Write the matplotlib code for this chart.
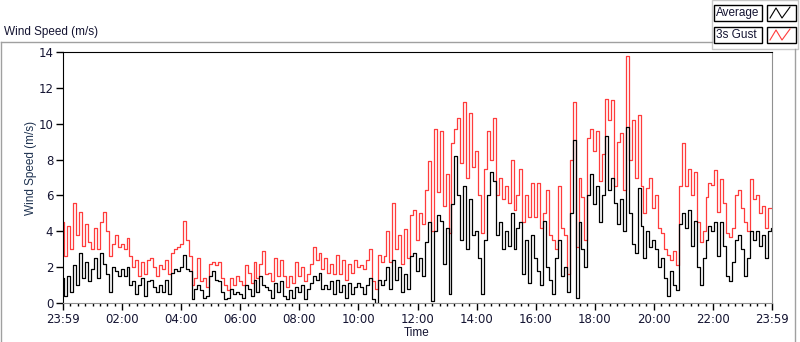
import matplotlib
matplotlib.use("Agg")
import matplotlib.pyplot as plt
import numpy as np
from matplotlib.patches import Rectangle
from matplotlib.lines import Line2D

W, H = 800, 342

# wind record, one sample every 6 minutes from 23:59 to 23:59
step_min = 6
gust = [
    4.5, 2.6, 4.3, 3.0, 5.6, 3.8, 5.1, 3.2, 4.4, 3.4,
    3.0, 4.2, 3.0, 4.5, 5.1, 4.0, 2.6, 3.3, 3.8, 3.1,
    3.3, 3.0, 3.6, 2.6, 2.0, 2.4, 1.5, 2.3, 1.6, 2.4,
    2.5, 2.0, 1.5, 2.1, 1.9, 2.4, 1.6, 2.8, 3.0, 3.1,
    3.3, 4.6, 3.5, 2.6, 1.0, 1.4, 2.5, 1.2, 1.4, 0.9,
    2.2, 2.3, 2.1, 2.3, 1.4, 1.0, 0.7, 1.4, 1.0, 1.5,
    1.2, 1.0, 2.1, 1.7, 1.1, 2.3, 1.4, 2.2, 2.9, 1.6,
    1.7, 1.2, 2.5, 1.5, 2.4, 1.5, 0.9, 1.5, 1.1, 2.3,
    1.5, 2.0, 1.2, 1.6, 2.2, 3.1, 2.4, 2.8, 1.9, 2.5,
    1.7, 2.2, 1.6, 2.7, 1.6, 2.4, 1.3, 2.2, 1.7, 2.4,
    2.0, 2.1, 1.9, 2.4, 3.0, 1.2, 0.8, 2.7, 2.3, 2.6,
    4.0, 2.3, 5.6, 3.0, 3.8, 2.2, 4.1, 2.5, 4.9, 5.2,
    3.5, 5.0, 4.4, 6.3, 7.9, 4.0, 9.7, 6.2, 9.6, 5.4,
    7.2, 3.9, 8.9, 9.7, 10.3, 7.8, 11.2, 7.0, 10.6, 7.6,
    8.5, 6.0, 3.9, 7.5, 9.6, 8.0, 10.3, 6.0, 7.0, 5.8,
    6.5, 5.6, 8.0, 5.2, 6.0, 7.5, 4.5, 6.0, 4.8, 6.7,
    4.8, 6.7, 4.2, 5.0, 6.3, 3.8, 3.5, 3.0, 6.5, 4.2,
    3.8, 1.6, 8.0, 11.2, 3.1, 7.0, 5.9, 3.5, 9.2, 9.7,
    8.5, 9.6, 6.8, 8.3, 11.4, 10.2, 11.3, 6.5, 9.0, 9.5,
    6.3, 13.8, 8.0, 10.2, 7.0, 10.5, 6.5, 5.0, 6.4, 7.0,
    5.3, 6.0, 4.2, 3.9, 3.0, 2.7, 2.4, 2.9, 2.1, 6.5,
    8.9, 6.5, 7.5, 6.0, 7.3, 4.5, 3.4, 4.0, 5.9, 6.7,
    6.6, 7.4, 5.1, 6.9, 5.6, 3.9, 3.7, 4.2, 6.0, 6.3,
    5.3, 4.5, 4.0, 6.9, 5.8, 6.0, 5.0, 5.4, 4.2, 5.3,
    5.3,
]
average = [
    1.4, 0.4, 1.5, 0.6, 2.1, 1.0, 2.8, 1.4, 2.3, 1.2,
    1.9, 2.5, 1.4, 2.8, 2.2, 1.6, 0.6, 2.0, 1.8, 1.5,
    1.9, 1.5, 2.0, 1.0, 1.2, 0.5, 1.0, 1.4, 0.4, 1.2,
    1.3, 0.9, 0.6, 1.0, 0.6, 1.3, 0.5, 1.7, 1.9, 1.8,
    2.0, 2.7, 1.9, 1.8, 0.2, 0.8, 1.0, 0.7, 0.3, 0.4,
    1.5, 1.8, 1.3, 1.2, 0.6, 0.2, 0.3, 0.8, 0.5, 0.6,
    0.5, 0.3, 1.0, 0.8, 0.4, 1.3, 0.6, 1.5, 1.0, 0.9,
    0.7, 0.3, 1.1, 0.6, 1.2, 0.4, 0.2, 0.7, 0.3, 0.9,
    0.6, 1.0, 0.2, 0.8, 1.1, 1.5, 1.3, 1.7, 0.8, 1.0,
    0.8, 1.2, 0.5, 1.3, 0.6, 1.0, 0.3, 1.1, 0.5, 0.9,
    1.1, 0.9, 0.5, 1.0, 1.4, 0.2, 0.0, 1.3, 1.0, 1.3,
    2.0, 0.8, 2.4, 1.3, 2.0, 0.6, 1.6, 0.8, 2.6, 2.8,
    1.8, 2.5, 1.5, 3.4, 4.5, 0.1, 4.0, 4.9, 4.6, 2.2,
    4.2, 0.5, 5.5, 8.2, 6.0, 3.5, 6.5, 3.0, 5.8, 3.8,
    4.0, 2.5, 0.5, 3.5, 6.0, 7.3, 6.8, 3.8, 4.5, 3.0,
    4.0, 3.2, 5.0, 3.0, 4.2, 4.5, 1.6, 3.5, 1.1, 3.8,
    2.5, 1.8, 1.0, 4.6, 2.0, 1.3, 0.5, 2.5, 3.5, 1.5,
    2.0, 0.6, 5.0, 9.1, 0.3, 4.5, 3.0, 2.0, 6.0, 7.2,
    5.5, 6.5, 4.5, 6.0, 9.3, 6.3, 7.0, 5.6, 4.4, 5.8,
    4.0, 9.8, 5.0, 3.3, 2.8, 6.4, 4.3, 2.5, 4.0, 3.1,
    3.5, 3.0, 2.0, 2.5, 1.4, 0.4, 1.8, 1.0, 0.7, 4.4,
    5.0, 4.2, 5.2, 3.2, 4.6, 2.0, 1.0, 2.5, 3.5, 4.3,
    4.0, 4.5, 2.6, 4.5, 3.2, 1.5, 1.2, 2.3, 3.5, 3.8,
    3.0, 1.5, 2.5, 4.0, 3.5, 4.0, 3.2, 3.8, 2.5, 4.0,
    4.2,
]

x_ticks = [0, 2, 4, 6, 8, 10, 12, 14, 16, 18, 20, 22, 24]
x_labels = ["23:59", "02:00", "04:00", "06:00", "08:00", "10:00", "12:00",
            "14:00", "16:00", "18:00", "20:00", "22:00", "23:59"]
y_ticks = [0, 2, 4, 6, 8, 10, 12, 14]

WORD_FONT = "Liberation Sans"
NUM_FONT = "DejaVu Sans"
TXT = "#141432"


def fx(x):
    return x / W


def fy(y):
    return 1 - y / H


fig = plt.figure(figsize=(W / 100, H / 100), dpi=100)
fig.patch.set_facecolor("white")

# outer panel frame
frame = dict(color="#a0a0a0", lw=1.0, transform=fig.transFigure)
fig.add_artist(Line2D([fx(0.5), fx(0.5)], [fy(42), fy(342)], **frame))
fig.add_artist(Line2D([fx(0.5), fx(712)], [fy(42), fy(42)], **frame))
fig.add_artist(Line2D([fx(795), fx(795)], [fy(49), fy(342)], **frame))
fig.text(fx(4), fy(32), "Wind Speed (m/s)", fontsize=8.5, family=WORD_FONT,
         color=TXT, ha="left", va="center")

# plot area
ax = fig.add_axes([fx(63), fy(303), fx(772) - fx(63), fy(52) - fy(303)])
t = np.arange(len(gust)) * step_min / 60.0
ax.plot(t, gust, color="#ff3c3c", lw=0.9, drawstyle="steps-mid")
ax.plot(t, average, color="black", lw=0.9, drawstyle="steps-mid")
ax.set_xlim(0, 24)
ax.set_ylim(0, 14)
ax.set_xticks(x_ticks)
ax.set_xticklabels(x_labels)
ax.set_xticks(np.arange(0, 24.01, 0.25), minor=True)
ax.set_yticks(y_ticks)
ax.tick_params(axis="both", which="major", length=5, width=1, color="black",
               labelsize=8.5, labelcolor=TXT, pad=2)
ax.tick_params(axis="x", which="minor", length=2.5, width=1, color="black")
for lab in ax.get_xticklabels() + ax.get_yticklabels():
    lab.set_family(NUM_FONT)
ax.spines["top"].set_color("black")
ax.spines["left"].set_color("black")
ax.spines["right"].set_color("#909090")
ax.spines["bottom"].set_color("#909090")
ax.set_xlabel("Time", fontsize=8.5, family=WORD_FONT, color=TXT)
ax.set_ylabel("Wind Speed (m/s)", fontsize=8.5, family=WORD_FONT,
              color="#1e3250")
ax.xaxis.set_label_coords(0.4993, -0.097)
ax.yaxis.set_label_coords(-0.037, 0.54)

# legend panel
fig.add_artist(Rectangle((fx(712), fy(49)), fx(798) - fx(712), fy(0) - fy(49),
                         facecolor="white", edgecolor="#c8c8c8", lw=1,
                         transform=fig.transFigure))
names = ["Average", "3s Gust"]
colors = ["black", "#ff3c3c"]
for i, (name, col) in enumerate(zip(names, colors)):
    top = 5 + i * 22
    fig.add_artist(Rectangle((fx(714), fy(top + 16)), fx(762) - fx(714),
                             fy(top) - fy(top + 16), facecolor="white",
                             edgecolor="black", lw=1, transform=fig.transFigure))
    fig.text(fx(715.5), fy(top + 8), name, fontsize=8.5, family=WORD_FONT,
             color=TXT, ha="left", va="center")
    fig.add_artist(Rectangle((fx(767), fy(top + 16)), fx(796) - fx(767),
                             fy(top) - fy(top + 16), facecolor="white",
                             edgecolor="black", lw=1, transform=fig.transFigure))
    zx = [770, 776, 782, 790]
    zy = [top + 13, top + 3, top + 13, top + 2]
    fig.add_artist(Line2D([fx(v) for v in zx], [fy(v) for v in zy], color=col,
                          lw=0.8, transform=fig.transFigure))

fig.savefig("out.png", dpi=100)
